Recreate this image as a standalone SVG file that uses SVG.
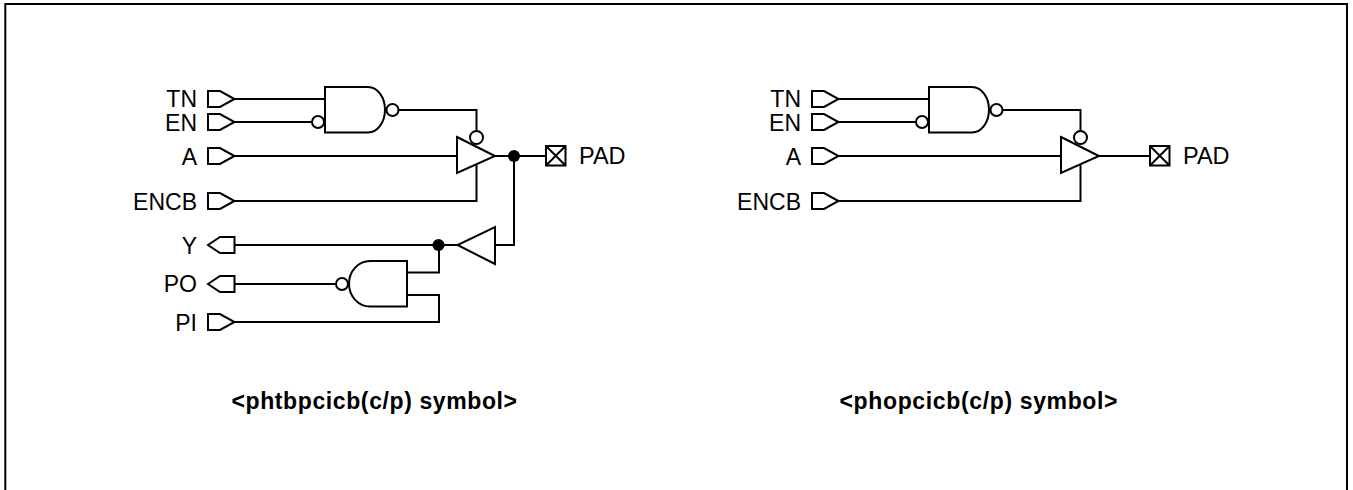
<svg xmlns="http://www.w3.org/2000/svg" width="1353" height="490" viewBox="0 0 1353 490">
<defs>
<style>
.l{fill:none;stroke:#000;stroke-width:2}
.s{fill:#fff;stroke:#000;stroke-width:2}
.d{fill:#000;stroke:none}
text{font-family:"Liberation Sans",Arial,sans-serif;fill:#000}
.t{font-size:23px;text-anchor:end}
.p{font-size:23.500px}
.c{font-size:23px;font-weight:bold}
</style>
<g id="pinIn"><path class="l" d="M0,-8H12L26.500,0L12,8H0Z"/></g>
<g id="pinOut"><path class="l" d="M0,0L12,-8H26.500V8H12Z"/></g>
<g id="padBox"><path class="l" d="M0,0H19.500V19.500H0ZM0,0L19.500,19.500M19.500,0L0,19.500"/></g>
</defs>
<rect x="0" y="0" width="1353" height="490" fill="#fff"/>
<path fill="none" stroke="#000" stroke-width="2" d="M5.300,490V4H1347V490"/>
<g id="connectors">
<path class="l" d="M234.500,99H325M234.500,122H312M234.500,156H457M234.500,201H476.500V165M398.500,110H476.500V131M495,156H546M514,156V245H495M457.500,245H235M335.500,284H235M234.500,322H439V295H407M407,272.500H439V245"/>
<path class="l" d="M838.500,99H929M838.500,122H916M838.500,156H1061M838.500,201H1080.500V165M1002.500,110H1080.500V131M1099,156H1150"/>
</g>
<g id="n-tn"><text class="t" x="197" y="107">TN</text><use href="#pinIn" x="208" y="99"/></g>
<g id="n-en"><text class="t" x="197" y="131">EN</text><use href="#pinIn" x="208" y="122"/></g>
<g id="n-a"><text class="t" x="197" y="164.500">A</text><use href="#pinIn" x="208" y="156"/></g>
<g id="n-encb"><text class="t" x="197" y="210">ENCB</text><use href="#pinIn" x="208" y="201"/></g>
<g id="n-y"><text class="t" x="197" y="254">Y</text><use href="#pinOut" x="208" y="245"/></g>
<g id="n-po"><text class="t" x="197" y="292">PO</text><use href="#pinOut" x="208" y="284"/></g>
<g id="n-pi"><text class="t" x="197" y="331">PI</text><use href="#pinIn" x="208" y="322"/></g>
<g id="n-nand1"><path class="s" d="M325,87H368A17,22.750 0 0 1 368,132.500H325Z"/><circle class="s" cx="318" cy="122" r="6"/><circle class="s" cx="392.500" cy="110" r="6"/></g>
<g id="n-buf1"><path class="s" d="M457,137L495,156L457,173Z"/><circle class="s" cx="476.500" cy="137.500" r="6.500"/></g>
<g id="n-buf2"><path class="s" d="M495,227V264L457.500,245Z"/></g>
<g id="n-nand2"><path class="s" d="M407,261H370A21,22.750 0 0 0 370,306.500H407Z"/><circle class="s" cx="342" cy="284" r="6"/></g>
<g id="n-dot1"><circle class="d" cx="514" cy="156" r="6"/></g>
<g id="n-dot2"><circle class="d" cx="438.500" cy="245" r="6"/></g>
<g id="n-pad"><use href="#padBox" x="546" y="146"/><text class="p" x="579" y="164">PAD</text></g>
<g id="n-cap1"><text class="c" x="231.500" y="408.500" textLength="285.500" lengthAdjust="spacing">&lt;phtbpcicb(c/p) symbol&gt;</text></g>
<g id="m-tn"><text class="t" x="801" y="107">TN</text><use href="#pinIn" x="812" y="99"/></g>
<g id="m-en"><text class="t" x="801" y="131">EN</text><use href="#pinIn" x="812" y="122"/></g>
<g id="m-a"><text class="t" x="801" y="164.500">A</text><use href="#pinIn" x="812" y="156"/></g>
<g id="m-encb"><text class="t" x="801" y="210">ENCB</text><use href="#pinIn" x="812" y="201"/></g>
<g id="m-nand"><path class="s" d="M929,87H972A17,22.750 0 0 1 972,132.500H929Z"/><circle class="s" cx="922" cy="122" r="6"/><circle class="s" cx="996.500" cy="110" r="6"/></g>
<g id="m-buf"><path class="s" d="M1061,137L1099,156L1061,173Z"/><circle class="s" cx="1080.500" cy="137.500" r="6.500"/></g>
<g id="m-pad"><use href="#padBox" x="1150" y="146"/><text class="p" x="1183" y="164">PAD</text></g>
<g id="m-cap"><text class="c" x="839.500" y="408.500" textLength="278" lengthAdjust="spacing">&lt;phopcicb(c/p) symbol&gt;</text></g>
</svg>
